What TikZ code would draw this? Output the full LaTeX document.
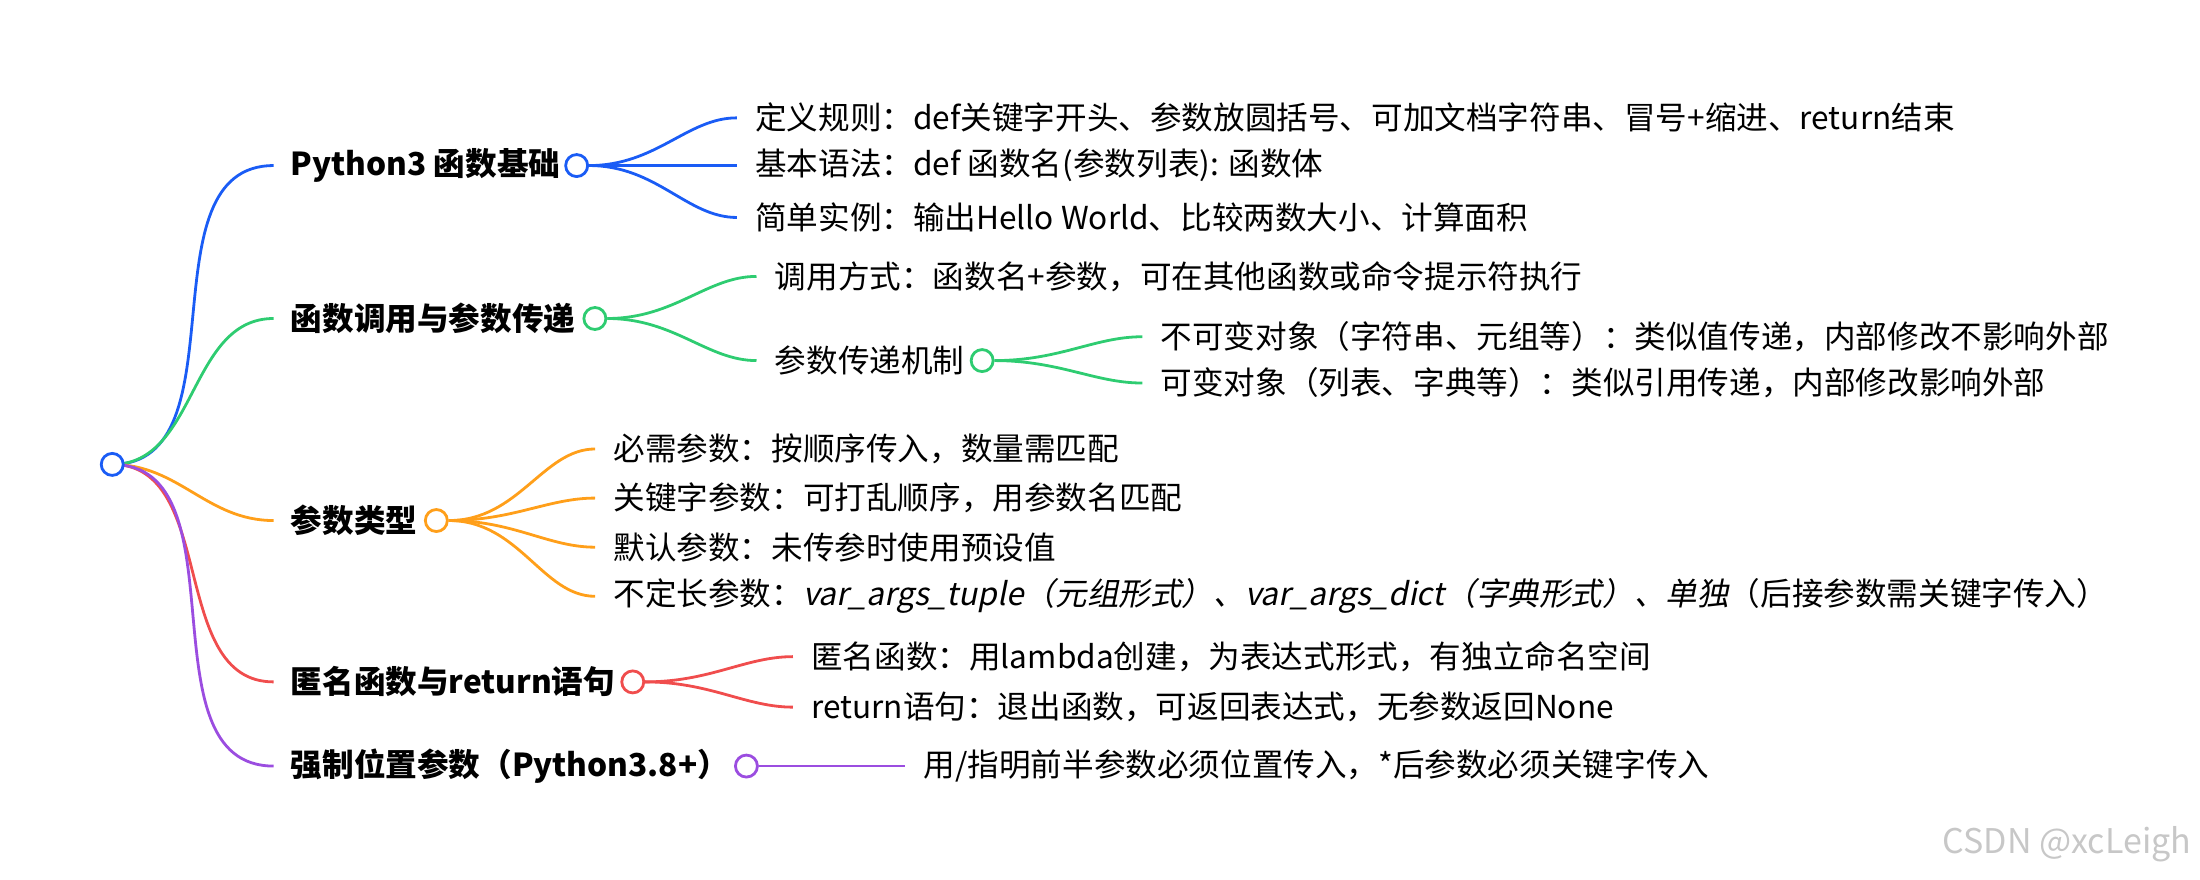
\documentclass[tikz,border=0pt]{standalone}
\usepackage{fontspec}
\setmainfont{Noto Sans CJK SC}
\newfontfamily\cjkit[FakeSlant=0.2]{Noto Sans CJK SC}
\definecolor{cblue}{HTML}{1A5CF5}
\definecolor{cgreen}{HTML}{2ECC71}
\definecolor{corange}{HTML}{FF9F1A}
\definecolor{cred}{HTML}{F04D4D}
\definecolor{cpurple}{HTML}{9B4DE0}
\begin{document}
\begin{tikzpicture}[x=0.7015pt, y=-0.7015pt, font=\fontsize{15.8}{18}\selectfont,
	dot/.style={circle, draw=#1, line width=1.4pt, fill=white, inner sep=0pt, minimum size=11pt},
	topic/.style={anchor=west, inner sep=0pt, font=\fontsize{15.8}{18}\selectfont\bfseries},
	leaf/.style={anchor=west, inner sep=0pt},
	link/.style={draw=#1, line width=1.4pt, out=0, in=180}]
	\useasboundingbox (0,0) rectangle (1568,627);
	% root and branches
	\coordinate (r) at (80,331);
	\foreach \n/\y/\c in {a/118/cblue, b/227/cgreen, c/371/corange, d/486/cred, e/546/cpurple}{
		\coordinate (\n0) at (195,\y);
		\draw[link=\c] (r) to (\n0);
	}
	\node[dot=cblue] (root) at (r) {};
	\node[topic] (a) at (207,118) {Python3 函数基础};
	\node[topic] (b) at (207,227) {函数调用与参数传递};
	\node[topic] (c) at (207,371) {参数类型};
	\node[topic] (d) at (207,486) {匿名函数与return语句};
	\node[topic] (e) at (207,546) {强制位置参数（Python3.8+）};
	% 1
	\node[dot=cblue] (ad) at (411,118) {};
	\node[leaf] (a1) at (538,84) {定义规则：def关键字开头、参数放圆括号、可加文档字符串、冒号+缩进、return结束};
	\node[leaf] (a2) at (538,118) {基本语法：def 函数名(参数列表): 函数体};
	\node[leaf] (a3) at (538,155) {简单实例：输出Hello World、比较两数大小、计算面积};
	\foreach \t in {a1,a2,a3}
		\draw[link=cblue, shorten >=9pt] (ad.east) to (\t.west);
	% 2
	\node[dot=cgreen] (bd) at (424,227) {};
	\node[leaf] (b1) at (552,197) {调用方式：函数名+参数，可在其他函数或命令提示符执行};
	\node[leaf] (b2) at (552,257) {参数传递机制};
	\node[dot=cgreen] (b2d) at (700,257) {};
	\node[leaf] (b21) at (827,240) {不可变对象（字符串、元组等）：类似值传递，内部修改不影响外部};
	\node[leaf] (b22) at (827,273) {可变对象（列表、字典等）：类似引用传递，内部修改影响外部};
	\foreach \t in {b1,b2}
		\draw[link=cgreen, shorten >=9pt] (bd.east) to (\t.west);
	\foreach \t in {b21,b22}
		\draw[link=cgreen, shorten >=9pt] (b2d.east) to (\t.west);
	% 3
	\node[dot=corange] (cd) at (311,371) {};
	\node[leaf] (c1) at (437,320) {必需参数：按顺序传入，数量需匹配};
	\node[leaf] (c2) at (437,355) {关键字参数：可打乱顺序，用参数名匹配};
	\node[leaf] (c3) at (437,390) {默认参数：未传参时使用预设值};
	\node[leaf] (c4) at (437,425) {不定长参数：{\cjkit var\_args\_tuple（元组形式）、var\_args\_dict（字典形式）、单独}（后接参数需关键字传入）};
	\foreach \t in {c1,c2,c3,c4}
		\draw[link=corange, shorten >=9pt] (cd.east) to (\t.west);
	% 4
	\node[dot=cred] (dd) at (451,486) {};
	\node[leaf] (d1) at (578,468) {匿名函数：用lambda创建，为表达式形式，有独立命名空间};
	\node[leaf] (d2) at (578,504) {return语句：退出函数，可返回表达式，无参数返回None};
	\foreach \t in {d1,d2}
		\draw[link=cred, shorten >=9pt] (dd.east) to (\t.west);
	% 5
	\node[dot=cpurple] (ed) at (532,546) {};
	\node[leaf] (e1) at (658,546) {用/指明前半参数必须位置传入，*后参数必须关键字传入};
	\draw[link=cpurple, shorten >=9pt] (ed.east) to (e1.west);
	% watermark
	\node[anchor=east, inner sep=0pt, text=black!22, font=\fontsize{17}{20}\selectfont] (wm) at (1562,602) {CSDN @xcLeigh};
\end{tikzpicture}
\end{document}
